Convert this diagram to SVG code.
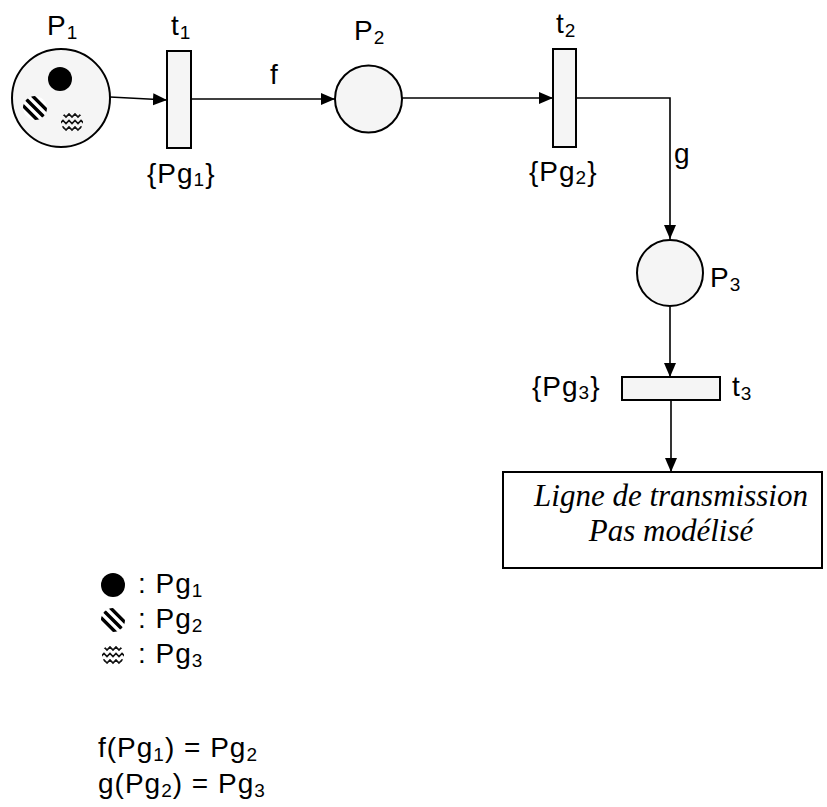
<svg xmlns="http://www.w3.org/2000/svg" xmlns:xlink="http://www.w3.org/1999/xlink" width="827" height="807" viewBox="0 0 827 807">
<style>
.pl{fill:#f5f5f5;stroke:#000;stroke-width:2}
.tr{fill:#f5f5f5;stroke:#000;stroke-width:2}
.cn{fill:none;stroke:#000;stroke-width:1.6;marker-end:url(#ah)}
.lbl{font-family:"Liberation Sans",Arial,Helvetica,sans-serif;font-size:28px;fill:#000;letter-spacing:1px}
.sub{font-size:19px}
.box{fill:#fff;stroke:#000;stroke-width:2}
.bt{font-family:"Liberation Serif","Times New Roman",serif;font-style:italic;font-size:31px;fill:#000;text-anchor:middle}
</style>
<defs>
<marker id="ah" markerUnits="userSpaceOnUse" markerWidth="15" markerHeight="13" refX="14" refY="6" orient="auto">
<path d="M0,0 L14,6 L0,12 z" fill="#000"/>
</marker>
<clipPath id="tc"><circle cx="0" cy="0" r="12"/></clipPath>
<clipPath id="wc"><circle cx="0" cy="0" r="11"/></clipPath>
<g id="dot"><circle cx="0" cy="0" r="12" fill="#000"/></g>
<g id="striped" clip-path="url(#tc)">
<circle cx="0" cy="0" r="12" fill="#fff"/>
<path d="M-15,-15 L15,15 M-10.2,-19.8 L19.8,10.2 M-19.8,-10.2 L10.2,19.8" stroke="#000" stroke-width="3.4" fill="none"/>
</g>
<g id="wavy" clip-path="url(#wc)">
<path d="M-12,-5 l3,-3 l3,3 l3,-3 l3,3 l3,-3 l3,3 l3,-3 l3,3 M-12,1.5 l3,-3 l3,3 l3,-3 l3,3 l3,-3 l3,3 l3,-3 l3,3 M-12,8 l3,-3 l3,3 l3,-3 l3,3 l3,-3 l3,3 l3,-3 l3,3" stroke="#111" stroke-width="1.6" fill="none"/>
</g>
</defs>

<g id="connectors">
<path class="cn" d="M110,97 L167,100"/>
<path class="cn" d="M191,99 L335,99"/>
<path class="cn" d="M402,98 L553,98"/>
<path class="cn" d="M576,98 L670,98 L670,239"/>
<path class="cn" d="M670,307 L670,377"/>
<path class="cn" d="M671,400 L671,472"/>
<text class="lbl" x="270" y="84">f</text>
<text class="lbl" x="674" y="163">g</text>
</g>

<g id="P1">
<circle class="pl" cx="61" cy="98" r="49"/>
<use xlink:href="#dot" x="60" y="79"/>
<use xlink:href="#striped" x="35" y="108"/>
<use xlink:href="#wavy" x="72" y="122"/>
<text class="lbl" x="47" y="35">P<tspan class="sub" dy="4">1</tspan></text>
</g>

<g id="t1">
<rect class="tr" x="167" y="51" width="24" height="97"/>
<text class="lbl" x="171" y="35">t<tspan class="sub" dy="4">1</tspan></text>
<text class="lbl" x="147" y="183">{Pg<tspan class="sub" dy="3">1</tspan><tspan dy="-3">}</tspan></text>
</g>

<g id="P2">
<circle class="pl" cx="368.5" cy="99" r="33.5"/>
<text class="lbl" x="354" y="40">P<tspan class="sub" dy="4">2</tspan></text>
</g>

<g id="t2">
<rect class="tr" x="553" y="49" width="23" height="98"/>
<text class="lbl" x="556" y="33">t<tspan class="sub" dy="4">2</tspan></text>
<text class="lbl" x="529" y="181">{Pg<tspan class="sub" dy="3">2</tspan><tspan dy="-3">}</tspan></text>
</g>

<g id="P3">
<circle class="pl" cx="670" cy="273" r="33"/>
<text class="lbl" x="710" y="287">P<tspan class="sub" dy="4">3</tspan></text>
</g>

<g id="t3">
<rect class="tr" x="622" y="377" width="98" height="23"/>
<text class="lbl" x="532" y="396">{Pg<tspan class="sub" dy="3">3</tspan><tspan dy="-3">}</tspan></text>
<text class="lbl" x="732" y="396">t<tspan class="sub" dy="4">3</tspan></text>
</g>

<g id="ligne">
<rect class="box" x="503" y="472" width="319" height="96"/>
<text class="bt" x="671" y="506">Ligne de transmission</text>
<text class="bt" x="671" y="541">Pas modélisé</text>
</g>

<g id="legend">
<use xlink:href="#dot" x="113" y="585"/>
<text class="lbl" x="138" y="593">: Pg<tspan class="sub" dy="4">1</tspan></text>
<use xlink:href="#striped" x="113" y="620"/>
<text class="lbl" x="138" y="628">: Pg<tspan class="sub" dy="4">2</tspan></text>
<use xlink:href="#wavy" x="113" y="655"/>
<text class="lbl" x="138" y="663">: Pg<tspan class="sub" dy="4">3</tspan></text>
</g>

<g id="formulas">
<text class="lbl" x="98" y="757">f(Pg<tspan class="sub" dy="4">1</tspan><tspan dy="-4">) = Pg</tspan><tspan class="sub" dy="4">2</tspan></text>
<text class="lbl" x="98" y="793">g(Pg<tspan class="sub" dy="4">2</tspan><tspan dy="-4">) = Pg</tspan><tspan class="sub" dy="4">3</tspan></text>
</g>
</svg>
